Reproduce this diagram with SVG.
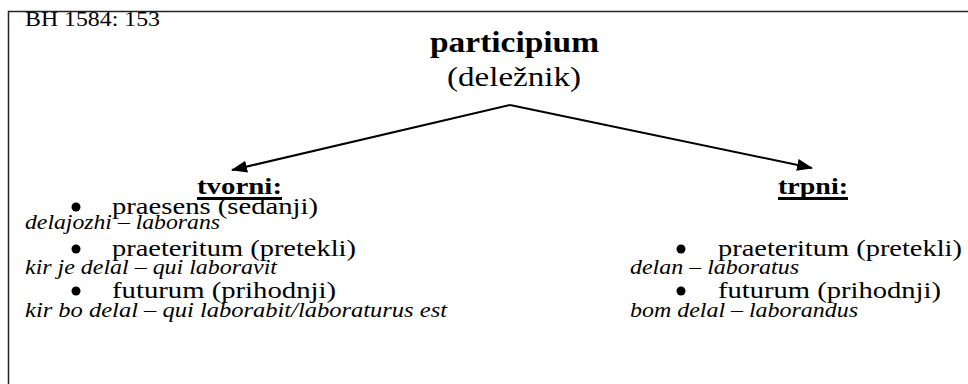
<svg xmlns="http://www.w3.org/2000/svg" width="968" height="384" viewBox="0 0 968 384">
  <style>
    text { font-family: "Liberation Serif", "Times New Roman", serif; fill: #000; }
    .ref { font-size: 20px; }
    .title { font-size: 29px; font-weight: bold; }
    .sub { font-size: 28px; }
    .head { font-size: 24px; font-weight: bold; }
    .item { font-size: 24px; }
    .ex { font-size: 20px; font-style: italic; }
    .frame { fill: none; stroke: #222; stroke-width: 1.5; }
    .edge { fill: none; stroke: #000; stroke-width: 2; marker-end: url(#arrow); }
  </style>
  <defs>
    <marker id="arrow" markerWidth="16" markerHeight="12" refX="15" refY="6" orient="auto" markerUnits="userSpaceOnUse">
      <path d="M0,0 L16,6 L0,12 Z" fill="#000"/>
    </marker>
  </defs>
  <rect width="968" height="384" fill="#fff"/>
  <!-- page frame, open at the right and bottom -->
  <path class="frame" d="M8.5,400 V11.5 H980"/>

  <text class="ref" x="25" y="26" textLength="135" lengthAdjust="spacingAndGlyphs">BH 1584: 153</text>

  <g id="root">
    <text class="title" x="430" y="52" textLength="169" lengthAdjust="spacingAndGlyphs">participium</text>
    <text class="sub" x="447" y="86" textLength="134" lengthAdjust="spacingAndGlyphs">(deležnik)</text>
  </g>

  <g id="connectors">
    <path class="edge" d="M510,105 L232,170"/>
    <path class="edge" d="M510,105 L812,168"/>
  </g>

  <g id="tvorni">
    <text class="head" x="197" y="194" textLength="85" lengthAdjust="spacingAndGlyphs">tvorni:</text>
    <rect x="197" y="197" width="85" height="3" fill="#000"/>
    <circle cx="76" cy="207" r="4.5"/>
    <text class="item" x="112" y="214" textLength="206" lengthAdjust="spacingAndGlyphs">praesens (sedanji)</text>
    <text class="ex" x="25" y="229" textLength="195" lengthAdjust="spacingAndGlyphs">delajozhi – laborans</text>
    <circle cx="76" cy="249" r="4.5"/>
    <text class="item" x="112" y="256" textLength="244" lengthAdjust="spacingAndGlyphs">praeteritum (pretekli)</text>
    <text class="ex" x="25" y="274" textLength="252" lengthAdjust="spacingAndGlyphs">kir je delal – qui laboravit</text>
    <circle cx="76" cy="291" r="4.5"/>
    <text class="item" x="112" y="298" textLength="224" lengthAdjust="spacingAndGlyphs">futurum (prihodnji)</text>
    <text class="ex" x="25" y="317" textLength="422" lengthAdjust="spacingAndGlyphs">kir bo delal – qui laborabit/laboraturus est</text>
  </g>

  <g id="trpni">
    <text class="head" x="778" y="194" textLength="70" lengthAdjust="spacingAndGlyphs">trpni:</text>
    <rect x="778" y="197" width="70" height="3" fill="#000"/>
    <circle cx="681" cy="249" r="4.5"/>
    <text class="item" x="718" y="256" textLength="244" lengthAdjust="spacingAndGlyphs">praeteritum (pretekli)</text>
    <text class="ex" x="630" y="274" textLength="169" lengthAdjust="spacingAndGlyphs">delan – laboratus</text>
    <circle cx="681" cy="291" r="4.5"/>
    <text class="item" x="718" y="298" textLength="223" lengthAdjust="spacingAndGlyphs">futurum (prihodnji)</text>
    <text class="ex" x="630" y="317" textLength="228" lengthAdjust="spacingAndGlyphs">bom delal – laborandus</text>
  </g>
</svg>
